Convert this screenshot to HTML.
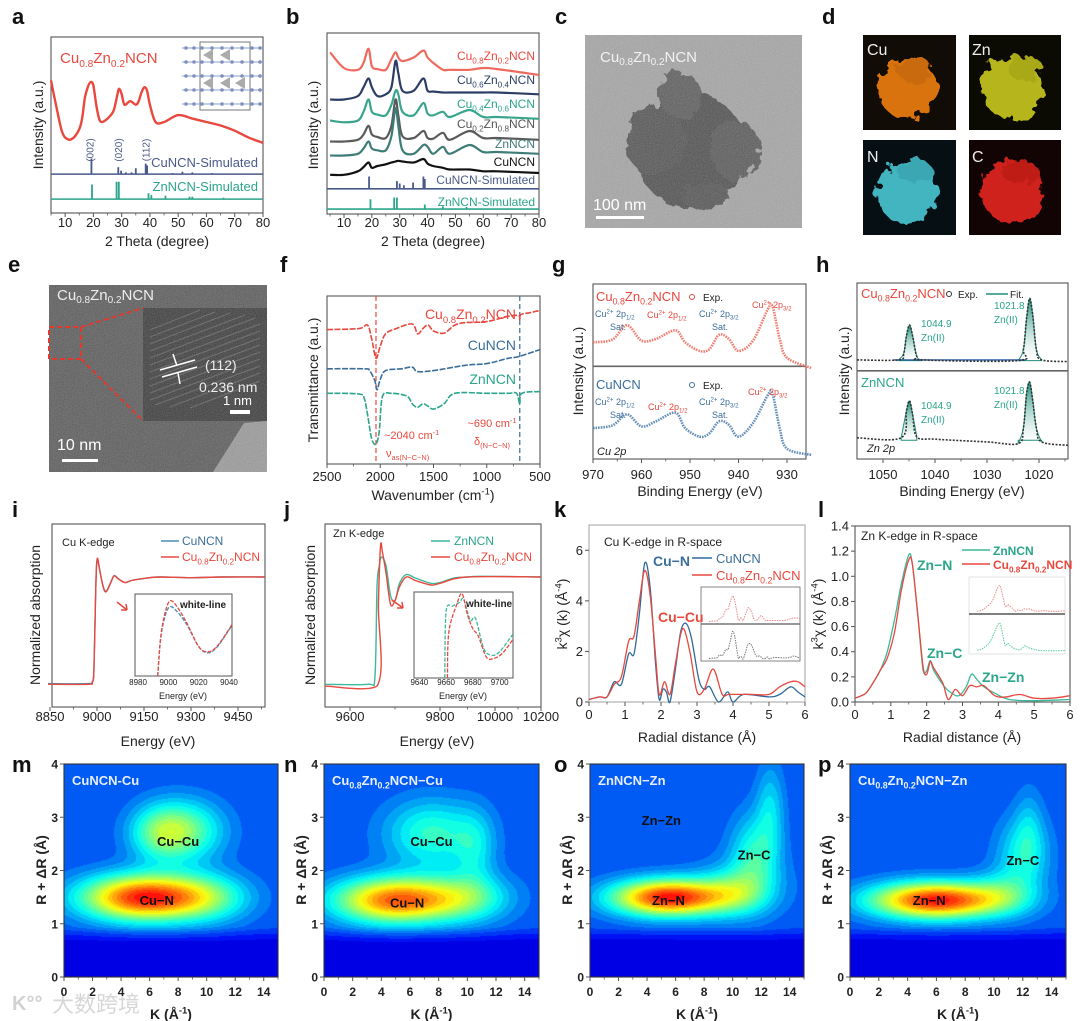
<!DOCTYPE html>
<html><head><meta charset="utf-8">
<style>
html,body{margin:0;padding:0;background:#fff}
#wrap{position:relative;width:1080px;height:1021px;overflow:hidden;background:#fff}
#wrap canvas{position:absolute;z-index:0}
#fig{position:absolute;left:0;top:0;z-index:1;font-family:"Liberation Sans","Noto Sans CJK SC",sans-serif}
</style></head>
<body>
<div id="wrap">
<canvas id="cm" style="left:64px;top:764px" width="214" height="213"></canvas>
<canvas id="cn" style="left:324px;top:764px" width="215" height="213"></canvas>
<canvas id="co" style="left:590px;top:764px" width="214" height="213"></canvas>
<canvas id="cp" style="left:850px;top:764px" width="216" height="213"></canvas>
<svg id="fig" width="1080" height="1021" viewBox="0 0 1080 1021">
<defs>
<filter id="grain" x="0" y="0" width="100%" height="100%"><feTurbulence type="fractalNoise" baseFrequency="0.9" numOctaves="2" seed="3"/><feColorMatrix type="saturate" values="0"/><feComponentTransfer><feFuncA type="linear" slope="0.35"/></feComponentTransfer></filter>
<filter id="rough"><feTurbulence type="fractalNoise" baseFrequency="0.09" numOctaves="3" seed="7" result="n"/><feDisplacementMap in="SourceGraphic" in2="n" scale="16"/></filter>
<filter id="mottle" x="0" y="0" width="100%" height="100%"><feTurbulence type="fractalNoise" baseFrequency="0.12" numOctaves="3" seed="11"/><feColorMatrix type="matrix" values="0 0 0 0 0  0 0 0 0 0  0 0 0 0 0  0 0 0 -2.2 1.4"/></filter>
<clipPath id="blobclip"><g filter="url(#rough)"><ellipse cx="690" cy="150" rx="55" ry="58"/><ellipse cx="655" cy="140" rx="30" ry="35"/><ellipse cx="735" cy="150" rx="25" ry="30"/><ellipse cx="680" cy="95" rx="22" ry="22"/><ellipse cx="705" cy="195" rx="25" ry="14"/></g></clipPath>
<linearGradient id="tealfill" x1="0" y1="0" x2="0" y2="1"><stop offset="0" stop-color="#1f8f78"/><stop offset="1" stop-color="#ffffff" stop-opacity="0.3"/></linearGradient>
</defs>

<g>
<rect x="585" y="35" width="217" height="193" fill="#a6a6a6"/>
<g filter="url(#rough)" opacity="0.9">
<ellipse cx="690" cy="150" rx="55" ry="58" fill="#4a4a4a"/>
<ellipse cx="655" cy="140" rx="30" ry="35" fill="#505050"/>
<ellipse cx="735" cy="150" rx="25" ry="30" fill="#555"/>
<ellipse cx="680" cy="95" rx="22" ry="22" fill="#585858"/>
<ellipse cx="705" cy="195" rx="25" ry="14" fill="#505050"/>
</g>
<rect x="610" y="60" width="170" height="160" filter="url(#mottle)" opacity="0.6" clip-path="url(#blobclip)"/>
<rect x="585" y="35" width="217" height="193" filter="url(#grain)"/>
<text x="600" y="62" font-size="15" fill="#f2f2f2">Cu<tspan font-size="10" dy="3">0.8</tspan><tspan dy="-3">Zn</tspan><tspan font-size="10" dy="3">0.2</tspan><tspan dy="-3">NCN</tspan></text>
<text x="593" y="210" font-size="16" fill="#fff">100 nm</text>
<rect x="596" y="216" width="48" height="3" fill="#fff"/>
</g>

<g>
<rect x="863" y="35" width="93" height="95" fill="#120c06"/>
<g filter="url(#rough)"><ellipse cx="907" cy="88" rx="30" ry="30" fill="#d8730f"/><ellipse cx="915" cy="70" rx="18" ry="12" fill="#c86a10"/></g>
<text x="867" y="55" font-size="16" fill="#eee">Cu</text>
<rect x="969" y="35" width="92" height="95" fill="#0b0b03"/>
<g filter="url(#rough)"><ellipse cx="1012" cy="88" rx="30" ry="32" fill="#b7b51a"/><ellipse cx="1025" cy="68" rx="18" ry="12" fill="#a9a818"/></g>
<text x="972" y="55" font-size="16" fill="#eee">Zn</text>
<rect x="863" y="140" width="93" height="95" fill="#061014"/>
<g filter="url(#rough)"><ellipse cx="907" cy="192" rx="30" ry="32" fill="#42b5c0"/><ellipse cx="915" cy="172" rx="18" ry="12" fill="#3aa7b3"/></g>
<text x="867" y="162" font-size="16" fill="#eee">N</text>
<rect x="969" y="140" width="92" height="95" fill="#120404"/>
<g filter="url(#rough)"><ellipse cx="1012" cy="192" rx="30" ry="32" fill="#d0201a"/><ellipse cx="1020" cy="172" rx="18" ry="12" fill="#c01c18"/></g>
<text x="972" y="162" font-size="16" fill="#eee">C</text>
</g>

<g>
<rect x="49" y="285" width="218" height="187" fill="#5d5d5d"/>
<polygon points="213,472 244,423 267,421 267,472" fill="#9b9b9b"/>
<rect x="143" y="308" width="124" height="113" fill="#3e3e3e"/>
<g stroke="#6a6a6a" stroke-width="1.2" opacity="0.8">
<line x1="150" y1="330" x2="200" y2="310"/><line x1="150" y1="337" x2="215" y2="312"/><line x1="150" y1="344" x2="230" y2="313"/><line x1="150" y1="351" x2="245" y2="315"/><line x1="150" y1="358" x2="255" y2="318"/><line x1="150" y1="365" x2="260" y2="324"/><line x1="150" y1="372" x2="260" y2="331"/><line x1="150" y1="379" x2="260" y2="338"/><line x1="150" y1="386" x2="260" y2="345"/><line x1="150" y1="393" x2="260" y2="352"/><line x1="150" y1="400" x2="260" y2="359"/><line x1="155" y1="405" x2="260" y2="366"/><line x1="170" y1="407" x2="260" y2="373"/><line x1="190" y1="408" x2="260" y2="381"/>
</g>
<rect x="49" y="285" width="218" height="187" filter="url(#grain)"/>
<rect x="49" y="327" width="32" height="32" fill="none" stroke="#e03a30" stroke-width="2" stroke-dasharray="5 3"/>
<line x1="81" y1="327" x2="143" y2="308" stroke="#e03a30" stroke-width="2" stroke-dasharray="5 3"/>
<line x1="81" y1="359" x2="143" y2="421" stroke="#e03a30" stroke-width="2" stroke-dasharray="5 3"/>
<text x="57" y="300" font-size="15" fill="#eee">Cu<tspan font-size="10" dy="3">0.8</tspan><tspan dy="-3">Zn</tspan><tspan font-size="10" dy="3">0.2</tspan><tspan dy="-3">NCN</tspan></text>
<text x="205" y="370" font-size="14" fill="#eee">(112)</text>
<text x="199" y="392" font-size="14" fill="#eee">0.236 nm</text>
<g stroke="#fff" stroke-width="1.5"><line x1="160" y1="370" x2="195" y2="360"/><line x1="162" y1="377" x2="197" y2="367"/><line x1="173" y1="354" x2="177" y2="366"/><line x1="180" y1="384" x2="178" y2="373"/></g>
<text x="223" y="405" font-size="13" fill="#fff">1 nm</text>
<rect x="230" y="410" width="20" height="4" fill="#fff"/>
<text x="57" y="450" font-size="16" fill="#fff">10 nm</text>
<rect x="62" y="459" width="36" height="3" fill="#fff"/>
</g>

<g opacity="0.85">
<text x="12" y="1010" font-size="20" fill="#c9c9c9" font-weight="bold">K°°</text>
<text x="52" y="1012" font-size="22" fill="#d0d0d0">大数跨境</text>
</g>
</svg>
</div>
<script>
// ================= DATA =================
const aX=[5,7,9,11,13,15,16,17,18,19,20,21,22,23,25,27,28,29,30,31,33,35,36,37,38,39,40,42,45,50,55,60,65,70,75,80];
const aRed=[230,310,380,400,395,370,340,280,250,235,245,300,340,350,340,320,290,255,270,300,290,300,290,265,250,260,300,350,350,330,340,350,360,375,395,410];
const aCuSimPos=[19.3,28.8,29.8,31.5,33.5,35,38.5,39,48,51.5,55,62];
const aCuSimH=[455,480,490,495,495,483,470,475,497,493,495,497];
const aZnSimPos=[19.5,28.2,29,39.5,40.5,45.5,54,55,66];
const aZnSimH=[530,522,522,555,560,562,565,565,568];
const bX=[5,10,15,17,18.8,20,22,25,27,28.5,29.5,31,35,38.5,40,42,45.5,48,55,60,65,80];
const bCu08=[150,195,200,180,140,190,198,200,170,150,165,175,165,145,165,180,200,200,200,195,198,215];
const bCu06=[285,285,275,250,225,250,275,270,250,175,210,260,260,225,260,262,265,265,265,265,265,270];
const bCu04=[345,350,345,320,285,320,328,330,300,260,270,320,330,295,325,330,320,335,315,335,335,340];
const bCu02=[405,405,400,385,360,385,392,395,360,285,330,390,395,375,395,397,380,400,375,395,395,400];
const bZn=[445,445,440,425,405,425,430,430,390,310,360,430,440,415,420,440,420,440,415,435,435,440];
const bCu=[500,500,490,478,465,480,475,470,465,462,460,462,465,455,468,475,480,485,485,490,490,495];
const bCuSimPos=[19,29,30,31.5,34.8,38.5,39];
const bCuSimH=[505,518,525,530,522,505,512];
const bZnSimPos=[19.5,28,29,39,45.5,54];
const bZnSimH=[570,565,565,585,590,592];
const fRedX=[2500,2200,2120,2080,2040,2000,1950,1850,1700,1650,1600,1550,1500,1400,1300,1200,1000,800,700,690,680,600,500];
const fRed=[228,225,215,255,310,275,240,225,212,240,225,215,232,238,215,208,205,190,188,200,185,180,173];
const fBlueX=[2500,2150,2100,2050,2030,2000,1950,1800,1700,1650,1500,1200,1000,800,700,500];
const fBlue=[340,340,345,375,400,370,345,340,335,348,345,330,325,310,305,285];
const fTealX=[2500,2200,2150,2120,2080,2040,2010,1980,1900,1750,1700,1650,1600,1550,1500,1400,1300,1000,800,720,690,670,500];
const fTeal=[410,412,425,470,540,555,520,420,410,418,440,450,440,447,455,440,410,410,410,410,440,410,405];
const gX=[970,966,963,960,957,953,951,948,946,944,942,940,937,934,933,931.5,930,925];
const gRed=[270,262,220,265,260,235,270,295,290,248,260,295,265,175,165,260,315,345];
const gBlue=[520,512,480,515,500,475,520,545,535,500,510,545,505,425,420,520,580,598];
const hTopX=[1055,1047,1046,1045.5,1044.9,1044.3,1043.5,1042.5,1024,1023,1022.4,1021.8,1021.2,1020.5,1019.5,1014.4];
const hTop=[320,320,300,250,218,250,310,320,322,290,200,140,190,290,320,325];
const hBotX=[1055,1046.5,1045.5,1044.9,1044.3,1043.5,1040,1030,1024,1023,1022.4,1021.8,1021.2,1020.5,1019.5,1014.4];
const hBot=[548,548,470,440,480,545,552,560,565,520,420,385,440,520,560,570];
const iX=[8844,8970,8985,8990,8995,8998,9002,9008,9020,9030,9045,9055,9070,9090,9110,9150,9200,9300,9400,9536];
const iCu=[528,528,522,490,300,200,174,200,250,262,235,218,228,238,232,226,222,224,222,222];
const iCuZn=[530,530,524,492,298,196,168,198,252,264,236,219,229,238,232,226,222,224,222,222];
const iInsX=[8993,8995,8998,9001,9005,9012,9020,9026,9032,9040,9042];
const iInsRed=[505,390,320,288,300,350,420,435,420,370,355];
const iInsBlue=[505,395,330,305,315,355,420,438,422,372,357];
const jTealX=[9540,9640,9655,9660,9665,9670,9680,9690,9700,9710,9725,9745,9780,9800,9850,9900,9950,10200];
const jTeal=[530,530,515,250,190,165,190,275,290,240,215,225,240,238,225,222,220,222];
const jRedX=[9540,9660,9663,9668,9672,9680,9690,9700,9710,9725,9745,9780,9800,9900,10200];
const jRed=[535,535,300,130,150,210,300,290,250,222,232,245,240,222,222];
const jInsTealX=[9659,9660,9665,9670,9673,9678,9682,9688,9694,9700,9710];
const jInsTeal=[510,320,305,295,285,345,340,425,445,435,385];
const jInsRedX=[9661,9662,9668,9672,9676,9680,9684,9690,9695,9702,9710];
const jInsRed=[510,380,300,270,330,370,390,450,455,440,400];
const kBlueX=[0,0.3,0.5,0.7,0.9,1.1,1.25,1.4,1.55,1.7,1.85,1.95,2.05,2.15,2.25,2.4,2.55,2.7,2.85,3.05,3.2,3.35,3.6,3.85,4.0,4.3,5.0,5.3,5.6,5.8,6.0];
const kBlue=[0.1,0.2,0.2,0.8,0.7,1.9,1.9,3.5,5.5,4.5,1.5,0.1,0.5,0.4,0.0,1.3,2.8,3.1,2.5,0.9,0.5,0.6,0.0,0.4,0.0,0.3,0.2,0.3,0.6,0.4,0.2];
const kRedX=[0,0.3,0.5,0.7,0.9,1.1,1.25,1.4,1.55,1.7,1.85,1.95,2.1,2.25,2.4,2.6,2.8,3.0,3.2,3.45,3.7,3.9,4.5,5.0,5.3,5.6,5.8,6.0];
const kRed=[0.1,0.2,0.2,0.7,1.0,2.4,2.6,4.0,5.2,4.2,1.8,0.3,0.8,0.3,1.5,2.9,2.0,0.4,0.5,1.3,0.3,0.3,0.3,0.3,0.6,0.8,0.8,0.6];
const lTealX=[0,0.3,0.5,0.7,0.9,1.1,1.3,1.5,1.6,1.75,1.9,2.0,2.1,2.2,2.5,2.7,2.9,3.1,3.25,3.4,3.6,3.9,4.3,5,6];
const lTeal=[0.03,0.07,0.15,0.25,0.4,0.65,0.95,1.17,1.1,0.7,0.25,0.25,0.33,0.25,0.12,0.07,0.05,0.12,0.22,0.18,0.12,0.07,0.02,0.01,0.02];
const lRedX=[0,0.3,0.5,0.7,0.9,1.1,1.3,1.5,1.6,1.75,1.9,2.0,2.1,2.2,2.45,2.6,2.8,3.0,3.2,3.4,3.6,3.9,4.2,4.6,5,5.5,6];
const lRed=[0.03,0.07,0.15,0.25,0.35,0.55,0.9,1.13,1.1,0.7,0.28,0.22,0.32,0.27,0.15,0.02,0.1,0.05,0.13,0.12,0.13,0.05,0.04,0.06,0.03,0.03,0.05];
const mK=[5.5,10,8.2,6.5], mR=[1.5,1.5,2.75,2.7], mAmp=[0.64,0.2,0.3,0.14], mSK=[3.0,2.2,2.0,1.4], mSR=[0.3,0.32,0.4,0.35];
const nK=[5,10,7.5,10.5], nR=[1.45,1.5,2.7,2.4], nAmp=[0.58,0.2,0.22,0.12], nSK=[3.0,2.2,2.3,1.0], nSR=[0.3,0.32,0.45,0.5];
const oK=[5.5,10,11.5,12.6,10.5], oR=[1.5,1.6,2.3,3.2,1.7], oAmp=[0.66,0.14,0.2,0.13,0.08], oSK=[2.8,1.5,1.2,0.7,2.5], oSR=[0.24,0.3,0.55,0.6,0.4];
const pK=[6,10.5,12,12.4], pR=[1.45,1.6,2.3,2.9], pAmp=[0.66,0.12,0.18,0.08], pSK=[3.2,1.5,1.3,0.7], pSR=[0.24,0.3,0.5,0.5];
const kTicks=[0,2,4,6,8,10,12,14], rTicks=[0,1,2,3,4];

// ================= HELPERS =================
const svg=document.getElementById('fig');
const NS='http://www.w3.org/2000/svg';
const RED='#e8483e', BLUE='#3b6e9b', TEAL='#2ba58b', NAVY='#2c3e66', SLATE='#4a5a8a';
function mk(tag,attrs,parent){const e=document.createElementNS(NS,tag);for(const k in attrs)e.setAttribute(k,attrs[k]);(parent||svg).appendChild(e);return e;}
function lin(d0,d1,r0,r1){return v=>r0+(v-d0)*(r1-r0)/(d1-d0);}
function pw(ds,rs){return v=>{let i=0;while(i<ds.length-2&&v>ds[i+1])i++;return rs[i]+(v-ds[i])*(rs[i+1]-rs[i])/(ds[i+1]-ds[i]);};}
function rich(el,str,fs){
  const re=/(_|\^)\{([^}]*)\}/g;let last=0,m,cur=0;
  const add=(s,off,small)=>{const t=mk('tspan',{},el);t.setAttribute('dy',off-cur);cur=off;if(small)t.setAttribute('font-size',fs*0.68);t.textContent=s;};
  while((m=re.exec(str))){if(m.index>last)add(str.slice(last,m.index),0,false);add(m[2],m[1]==='_'?fs*0.28:-fs*0.38,true);last=re.lastIndex;}
  if(last<str.length)add(str.slice(last),0,false);
}
function tx(parent,x,y,str,o){
  o=o||{};const fs=o.fs||12;
  const e=mk('text',{x:x,y:y,'font-size':fs,fill:o.fill||'#222','text-anchor':o.anchor||'start','font-weight':o.bold?'bold':'normal','font-style':o.italic?'italic':'normal'},parent);
  if(o.rot)e.setAttribute('transform','rotate('+o.rot+' '+x+' '+y+')');
  
  
  rich(e,str,fs);return e;
}
function smooth(pts){
  let d='M'+pts[0][0].toFixed(1)+','+pts[0][1].toFixed(1);
  for(let i=0;i<pts.length-1;i++){
    const p0=pts[i-1]||pts[i],p1=pts[i],p2=pts[i+1],p3=pts[i+2]||p2;
    let c1y=p1[1]+(p2[1]-p0[1])/6,c2y=p2[1]-(p3[1]-p1[1])/6;
    const lo=Math.min(p1[1],p2[1]),hi=Math.max(p1[1],p2[1]);
    c1y=Math.max(lo-6,Math.min(hi+6,c1y));c2y=Math.max(lo-6,Math.min(hi+6,c2y));
    d+=' C'+(p1[0]+(p2[0]-p0[0])/6).toFixed(1)+','+c1y.toFixed(1)+' '+(p2[0]-(p3[0]-p1[0])/6).toFixed(1)+','+c2y.toFixed(1)+' '+p2[0].toFixed(1)+','+p2[1].toFixed(1);
  }
  return d;
}
function series(g,xs,ys,sx,sy,style,name){
  const pts=xs.map((x,i)=>[sx(x),sy(ys[i])]).sort((a,b)=>a[0]-b[0]);
  const p=mk('path',Object.assign({d:smooth(pts),fill:'none','stroke-linejoin':'round'},style),g);
  
  
  return p;
}
function sticks(g,pos,h,base,sx,sy,color,name){
  pos.forEach((x,i)=>{
    const l=mk('line',{x1:sx(x),x2:sx(x),y1:sy(base),y2:sy(h[i]),stroke:color,'stroke-width':1.8},g);
    
    
  });
}
function panelGroup(name){const g=mk('g',{});return g;}
function frame(g,b,color){
  const r=mk('rect',{x:b.x,y:b.y,width:b.w,height:b.h,fill:'none',stroke:color||'#555','stroke-width':1.1},g);
  
  
}
function xAxis(g,b,sx,ticks,labels,ly,opts){
  opts=opts||{};
  ticks.forEach((t,i)=>{
    const x=sx(t);
    const tk=mk('line',{x1:x,x2:x,y1:b.y+b.h,y2:b.y+b.h+4,stroke:'#555','stroke-width':1},g);
    
    
    if(labels[i]!==''&&labels[i]!=null)tx(g,x,ly,String(labels[i]),{fs:opts.fs||13,anchor:'middle',fill:'#222',bold:opts.bold,name:'x-tick-label'});
  });
  (opts.minor||[]).forEach(t=>{const x=sx(t);const mt=mk('line',{x1:x,x2:x,y1:b.y+b.h,y2:b.y+b.h+2.5,stroke:'#555','stroke-width':0.8},g);});
}
function yAxis(g,b,sy,ticks,labels,opts){
  opts=opts||{};
  ticks.forEach((t,i)=>{
    const y=sy(t);
    const tk=mk('line',{x1:b.x-4,x2:b.x,y1:y,y2:y,stroke:'#555','stroke-width':1},g);
    
    
    tx(g,b.x-6,y+4.5,String(labels[i]),{fs:opts.fs||13,anchor:'end',bold:opts.bold,name:'y-tick-label'});
  });
}
function range(a,b,s){const r=[];for(let v=a;v<=b+1e-9;v+=s)r.push(+v.toFixed(4));return r;}
function letter(x,y,ch){tx(svg,x,y,ch,{fs:22,bold:true,fill:'#111',name:'panel-letter-'+ch});}
function legLine(g,x1,x2,y,color,name){const l=mk('line',{x1:x1,x2:x2,y1:y,y2:y,stroke:color,'stroke-width':1.6},g);}

// ================= PANEL a =================
(function(){
  const g=panelGroup('panel-a-xrd');
  const b={x:51,y:37,w:212,h:176};
  const sx=lin(5,80,51,263), sy=lin(612,105,213,37);
  frame(g,b);
  sticks(g,aCuSimPos,aCuSimH,500,sx,sy,SLATE,'cuncn-sim-stick');
  legLine(g,b.x,b.x+b.w,sy(500),SLATE,'cuncn-sim-baseline');
  sticks(g,aZnSimPos,aZnSimH,572,sx,sy,TEAL,'znncn-sim-stick');
  legLine(g,b.x,b.x+b.w,sy(572),TEAL,'znncn-sim-baseline');
  series(g,aX,aRed,sx,sy,{stroke:RED,'stroke-width':2.4},'cu08zn02ncn-xrd-curve');
  const ins=mk('g',{},g);
  mk('rect',{x:200,y:42,width:50,height:68,fill:'none',stroke:'#777','stroke-width':1},ins);
  [48,62,76,90,104].forEach(y=>{mk('line',{x1:182,x2:264,y1:y,y2:y,stroke:'#8aa0c8','stroke-width':1},ins);
    [186,194,202,212,222,232,242,252,260].forEach(x=>mk('circle',{cx:x,cy:y,r:1.8,fill:'#7f8fc0'},ins));});
  [[203,55],[220,55],[235,83],[203,83],[220,83]].forEach(p=>mk('polygon',{points:(p[0])+','+(p[1])+' '+(p[0]+10)+','+(p[1]-6)+' '+(p[0]+10)+','+(p[1]+6),fill:'#888',opacity:0.7},ins));
  tx(g,60,63,'Cu_{0.8}Zn_{0.2}NCN',{fs:15,fill:RED,name:'sample-label'});
  tx(g,258,167,'CuNCN-Simulated',{fs:13,fill:SLATE,anchor:'end',name:'cuncn-sim-label'});
  tx(g,258,191,'ZnNCN-Simulated',{fs:13,fill:TEAL,anchor:'end',name:'znncn-sim-label'});
  [[19,'(002)'],[29,'(020)'],[38.8,'(112)']].forEach(p=>tx(g,sx(p[0])+3,150,p[1],{fs:10,fill:SLATE,anchor:'middle',rot:-90,name:'miller-index-label'}));
  xAxis(g,b,sx,range(10,80,10),range(10,80,10),227,{minor:range(5,75,10)});
  tx(g,157,246,'2 Theta (degree)',{fs:14,anchor:'middle',name:'x-axis-title'});
  tx(g,43,125,'Intensity (a.u.)',{fs:14,anchor:'middle',rot:-90,name:'y-axis-title'});
})();
letter(12,24,'a');

// ================= PANEL b =================
(function(){
  const g=panelGroup('panel-b-xrd-series');
  const b={x:327,y:33,w:212,h:181};
  const sx=lin(10,80,344,539), sy=lin(612,95,214,33);
  frame(g,b);
  sticks(g,bCuSimPos,bCuSimH,540,sx,sy,SLATE,'cuncn-sim-stick');
  legLine(g,b.x,b.x+b.w,sy(540),SLATE,'cuncn-sim-baseline');
  sticks(g,bZnSimPos,bZnSimH,598,sx,sy,TEAL,'znncn-sim-stick');
  legLine(g,b.x,b.x+b.w,sy(598),TEAL,'znncn-sim-baseline');
  series(g,bX,bCu08,sx,sy,{stroke:'#ef6a5e','stroke-width':2.2},'cu08zn02ncn-curve');
  series(g,bX,bCu06,sx,sy,{stroke:NAVY,'stroke-width':2.2},'cu06zn04ncn-curve');
  series(g,bX,bCu04,sx,sy,{stroke:'#3aa58d','stroke-width':2.2},'cu04zn06ncn-curve');
  series(g,bX,bCu02,sx,sy,{stroke:'#5a5a5a','stroke-width':2.2},'cu02zn08ncn-curve');
  series(g,bX,bZn,sx,sy,{stroke:'#3e7c78','stroke-width':2.2},'znncn-curve');
  series(g,bX,bCu,sx,sy,{stroke:'#111','stroke-width':2.2},'cuncn-curve');
  tx(g,535,60,'Cu_{0.8}Zn_{0.2}NCN',{fs:12,fill:RED,anchor:'end',name:'legend-cu08'});
  tx(g,535,84,'Cu_{0.6}Zn_{0.4}NCN',{fs:12,fill:NAVY,anchor:'end',name:'legend-cu06'});
  tx(g,535,108,'Cu_{0.4}Zn_{0.6}NCN',{fs:12,fill:TEAL,anchor:'end',name:'legend-cu04'});
  tx(g,535,128,'Cu_{0.2}Zn_{0.8}NCN',{fs:12,fill:'#555',anchor:'end',name:'legend-cu02'});
  tx(g,535,148,'ZnNCN',{fs:12,fill:'#3e7c78',anchor:'end',name:'legend-znncn'});
  tx(g,535,166,'CuNCN',{fs:12,fill:'#111',anchor:'end',name:'legend-cuncn'});
  tx(g,535,184,'CuNCN-Simulated',{fs:12,fill:SLATE,anchor:'end',name:'legend-cuncn-sim'});
  tx(g,535,206,'ZnNCN-Simulated',{fs:12,fill:TEAL,anchor:'end',name:'legend-znncn-sim'});
  xAxis(g,b,sx,range(10,80,10),range(10,80,10),227,{minor:range(5,75,10)});
  tx(g,433,246,'2 Theta (degree)',{fs:14,anchor:'middle',name:'x-axis-title'});
  tx(g,318,125,'Intensity (a.u.)',{fs:14,anchor:'middle',rot:-90,name:'y-axis-title'});
})();
letter(286,24,'b');
letter(555,24,'c');
letter(822,24,'d');
letter(8,272,'e');

// ================= PANEL f =================
(function(){
  const g=panelGroup('panel-f-ftir');
  const b={x:327,y:296,w:213,h:168};
  const sx=lin(2500,500,327,540), sy=lin(612,132,464,296);
  frame(g,b);
  const v1=mk('line',{x1:sx(2040),x2:sx(2040),y1:b.y,y2:b.y+b.h,stroke:RED,'stroke-width':1.2,'stroke-dasharray':'5 3'},g);
  
  
  const v2=mk('line',{x1:sx(690),x2:sx(690),y1:b.y,y2:b.y+b.h,stroke:BLUE,'stroke-width':1.2,'stroke-dasharray':'5 3'},g);
  
  
  series(g,fRedX,fRed,sx,sy,{stroke:RED,'stroke-width':1.6,'stroke-dasharray':'6 1.5'},'cu08zn02ncn-ftir');
  series(g,fBlueX,fBlue,sx,sy,{stroke:BLUE,'stroke-width':1.6,'stroke-dasharray':'6 1.5'},'cuncn-ftir');
  series(g,fTealX,fTeal,sx,sy,{stroke:TEAL,'stroke-width':1.6,'stroke-dasharray':'6 1.5'},'znncn-ftir');
  tx(g,516,319,'Cu_{0.8}Zn_{0.2}NCN',{fs:14,fill:RED,anchor:'end',name:'legend-cu08'});
  tx(g,516,350,'CuNCN',{fs:14,fill:BLUE,anchor:'end',name:'legend-cuncn'});
  tx(g,516,384,'ZnNCN',{fs:14,fill:TEAL,anchor:'end',name:'legend-znncn'});
  tx(g,384,439,'~2040 cm^{-1}',{fs:11,fill:RED,name:'annot-2040'});
  tx(g,386,457,'ν_{as(N−C−N)}',{fs:11,fill:RED,name:'annot-nu'});
  tx(g,492,427,'~690 cm^{-1}',{fs:11,fill:RED,anchor:'middle',name:'annot-690'});
  tx(g,492,445,'δ_{(N−C−N)}',{fs:11,fill:RED,anchor:'middle',name:'annot-delta'});
  xAxis(g,b,sx,[2500,2000,1500,1000,500],[2500,2000,1500,1000,500],481,{minor:[2250,1750,1250,750]});
  tx(g,433,500,'Wavenumber (cm^{-1})',{fs:14,anchor:'middle',name:'x-axis-title'});
  tx(g,318,380,'Transmittance (a.u.)',{fs:14,anchor:'middle',rot:-90,name:'y-axis-title'});
})();
letter(280,272,'f');

// ================= PANEL g =================
(function(){
  const g=panelGroup('panel-g-cu2p');
  const b={x:593,y:284,w:213,h:175};
  const sx=lin(970,930,593,787), sy=lin(610,100,459,284);
  frame(g,b);
  legLine(g,b.x,b.x+b.w,sy(340),'#666','divider-line');
  series(g,gX,gRed,sx,sy,{stroke:'#ee6a5a','stroke-width':2.6,'stroke-dasharray':'1.6 1','opacity':0.85},'cu08zn02ncn-exp');
  series(g,gX,gBlue,sx,sy,{stroke:'#4a7cab','stroke-width':2.6,'stroke-dasharray':'1.6 1','opacity':0.85},'cuncn-exp');
  tx(g,596,301,'Cu_{0.8}Zn_{0.2}NCN',{fs:13,fill:RED,name:'legend-cu08'});
  mk('circle',{cx:692,cy:297,r:2.5,fill:'none',stroke:RED},g);
  tx(g,703,301,'Exp.',{fs:10,name:'legend-exp'});
  tx(g,595,317,'Cu^{2+} 2p_{1/2}',{fs:9,fill:BLUE,name:'annot-sat1'});
  tx(g,610,330,'Sat.',{fs:9,fill:BLUE,name:'annot-sat1b'});
  tx(g,647,318,'Cu^{2+} 2p_{1/2}',{fs:9,fill:RED,name:'annot-2p12'});
  tx(g,699,317,'Cu^{2+} 2p_{3/2}',{fs:9,fill:BLUE,name:'annot-sat2'});
  tx(g,712,330,'Sat.',{fs:9,fill:BLUE,name:'annot-sat2b'});
  tx(g,752,308,'Cu^{2+} 2p_{3/2}',{fs:9,fill:RED,name:'annot-2p32'});
  tx(g,596,389,'CuNCN',{fs:13,fill:BLUE,name:'legend-cuncn'});
  mk('circle',{cx:692,cy:385,r:2.5,fill:'none',stroke:BLUE},g);
  tx(g,703,389,'Exp.',{fs:10,name:'legend-exp'});
  tx(g,595,405,'Cu^{2+} 2p_{1/2}',{fs:9,fill:BLUE,name:'annot-sat1'});
  tx(g,610,418,'Sat.',{fs:9,fill:BLUE,name:'annot-sat1b'});
  tx(g,648,410,'Cu^{2+} 2p_{1/2}',{fs:9,fill:RED,name:'annot-2p12'});
  tx(g,699,405,'Cu^{2+} 2p_{3/2}',{fs:9,fill:BLUE,name:'annot-sat2'});
  tx(g,712,418,'Sat.',{fs:9,fill:BLUE,name:'annot-sat2b'});
  tx(g,748,395,'Cu^{2+} 2p_{3/2}',{fs:9,fill:RED,name:'annot-2p32'});
  tx(g,597,455,'Cu 2p',{fs:11,italic:true,name:'core-level-label'});
  xAxis(g,b,sx,[970,960,950,940,930],[970,960,950,940,930],479,{minor:[965,955,945,935]});
  tx(g,700,496,'Binding Energy (eV)',{fs:14,anchor:'middle',name:'x-axis-title'});
  tx(g,583,371,'Intensity (a.u.)',{fs:14,anchor:'middle',rot:-90,name:'y-axis-title'});
})();
letter(552,272,'g');

// ================= PANEL h =================
(function(){
  const g=panelGroup('panel-h-zn2p');
  const b={x:857,y:283,w:211,h:176};
  const sx=lin(1050,1020,883,1039), sy=lin(610,95,459,283);
  frame(g,b);
  legLine(g,b.x,b.x+b.w,sy(352),'#666','divider-line');
  function fillPeaks(xs,ys,base,name){
    [[1047,1042.5],[1024.2,1019.4]].forEach(w=>{
      const pts=[];xs.forEach((x,i)=>{if(x<=w[0]&&x>=w[1])pts.push([sx(x),sy(ys[i])]);});
      pts.sort((a,b)=>a[0]-b[0]);
      const d=smooth(pts)+' L'+pts[pts.length-1][0]+','+sy(base)+' L'+pts[0][0]+','+sy(base)+'Z';
      const p=mk('path',{d:d,fill:'url(#tealfill)',stroke:'#1f8f78','stroke-width':1},g);
      
      
    });
  }
  fillPeaks(hTopX,hTop,322,'cu08-fit-peak');
  fillPeaks(hBotX,hBot,555,'znncn-fit-peak');
  const fit=mk('line',{x1:sx(1048),x2:sx(1022.5),y1:sy(320),y2:sy(320),stroke:'#2a5fa0','stroke-width':1.4},g);
  
  
  series(g,hTopX,hTop,sx,sy,{stroke:'#333','stroke-width':1.6,'stroke-dasharray':'2 1.5'},'cu08zn02ncn-exp');
  series(g,hBotX,hBot,sx,sy,{stroke:'#333','stroke-width':1.6,'stroke-dasharray':'2 1.5'},'znncn-exp');
  tx(g,861,298,'Cu_{0.8}Zn_{0.2}NCN',{fs:13,fill:RED,name:'legend-cu08'});
  mk('circle',{cx:949,cy:294,r:2.5,fill:'none',stroke:'#333'},g);
  tx(g,958,298,'Exp.',{fs:10,name:'legend-exp'});
  legLine(g,986,1008,294,'#1f8f78','legend-fit-line');
  tx(g,1010,298,'Fit.',{fs:10,name:'legend-fit'});
  tx(g,921,327,'1044.9',{fs:10,fill:TEAL,name:'peak-1044'});
  tx(g,921,341,'Zn(II)',{fs:10,fill:TEAL,name:'peak-1044-state'});
  tx(g,994,309,'1021.8',{fs:10,fill:TEAL,name:'peak-1021'});
  tx(g,994,323,'Zn(II)',{fs:10,fill:TEAL,name:'peak-1021-state'});
  tx(g,861,387,'ZnNCN',{fs:13,fill:TEAL,name:'legend-znncn'});
  tx(g,921,409,'1044.9',{fs:10,fill:TEAL,name:'peak-1044'});
  tx(g,921,423,'Zn(II)',{fs:10,fill:TEAL,name:'peak-1044-state'});
  tx(g,994,394,'1021.8',{fs:10,fill:TEAL,name:'peak-1021'});
  tx(g,994,408,'Zn(II)',{fs:10,fill:TEAL,name:'peak-1021-state'});
  tx(g,867,452,'Zn 2p',{fs:11,italic:true,name:'core-level-label'});
  xAxis(g,b,sx,[1050,1040,1030,1020],[1050,1040,1030,1020],479,{minor:[1045,1035,1025,1015]});
  tx(g,962,496,'Binding Energy (eV)',{fs:14,anchor:'middle',name:'x-axis-title'});
  tx(g,849,371,'Intensity (a.u.)',{fs:14,anchor:'middle',rot:-90,name:'y-axis-title'});
})();
letter(816,272,'h');

// ================= PANEL i =================
(function(){
  const g=panelGroup('panel-i-cu-xanes');
  const b={x:52,y:524,w:213,h:183};
  const sx=lin(8850,9450,50,238), sy=lin(595,70,707,524);
  frame(g,b);
  series(g,iX,iCu,sx,sy,{stroke:'#4a8fb0','stroke-width':1.4},'cuncn-xanes');
  series(g,iX,iCuZn,sx,sy,{stroke:RED,'stroke-width':1.4},'cu08zn02ncn-xanes');
  const box=mk('rect',{x:sx(8970),y:sy(282),width:sx(9045)-sx(8970),height:sy(158)-sy(282),fill:'none',stroke:'#f07a6a','stroke-width':1.2,'stroke-dasharray':'5 3'},g);
  
  
  const ar=mk('path',{d:'M117,602 L127,610 M127,610 L121,610 M127,610 L126,604',stroke:RED,'stroke-width':1.5,fill:'none'},g);
  
  
  const ib={x:135,y:594,w:97,h:82};
  const isx=lin(8978,9042,135,232), isy=lin(505,268,676,594);
  mk('rect',{x:ib.x,y:ib.y,width:ib.w,height:ib.h,fill:'#fff',stroke:'#555','stroke-width':1},g);
  series(g,iInsX,iInsBlue,isx,isy,{stroke:'#4a8fb0','stroke-width':1.3,'stroke-dasharray':'4 1.5'},'inset-cuncn');
  series(g,iInsX,iInsRed,isx,isy,{stroke:RED,'stroke-width':1.3,'stroke-dasharray':'4 1.5'},'inset-cu08');
  tx(g,180,608,'white-line',{fs:10,bold:true,name:'inset-white-line-label'});
  [8980,9000,9020,9040].forEach(v=>tx(g,isx(v),685,String(v),{fs:8,anchor:'middle',name:'inset-tick-label'}));
  tx(g,183,699,'Energy (eV)',{fs:9,anchor:'middle',name:'inset-x-title'});
  tx(g,62,546,'Cu K-edge',{fs:11,name:'edge-label'});
  legLine(g,161,179,541,'#4a8fb0','legend-line-cuncn');
  tx(g,182,545,'CuNCN',{fs:12,fill:BLUE,name:'legend-cuncn'});
  legLine(g,161,179,557,RED,'legend-line-cu08');
  tx(g,182,561,'Cu_{0.8}Zn_{0.2}NCN',{fs:12,fill:RED,name:'legend-cu08'});
  xAxis(g,b,sx,[8850,9000,9150,9300,9450],[8850,9000,9150,9300,9450],721,{minor:[8925,9075,9225,9375,9525]});
  tx(g,158,746,'Energy (eV)',{fs:14,anchor:'middle',name:'x-axis-title'});
  tx(g,40,615,'Normalized absorption',{fs:14,anchor:'middle',rot:-90,name:'y-axis-title'});
})();
letter(12,517,'i');

// ================= PANEL j =================
(function(){
  const g=panelGroup('panel-j-zn-xanes');
  const b={x:325,y:524,w:216,h:183};
  const sx=pw([9540,9600,9800,10000,10200],[325,350,440,495,541]), sy=lin(595,70,707,524);
  frame(g,b);
  series(g,jTealX,jTeal,sx,sy,{stroke:'#3cb89b','stroke-width':1.4},'znncn-xanes');
  series(g,jRedX,jRed,sx,sy,{stroke:RED,'stroke-width':1.4},'cu08zn02ncn-xanes');
  const box=mk('rect',{x:sx(9625),y:sy(318),width:sx(9700)-sx(9625),height:sy(118)-sy(318),fill:'none',stroke:'#f07a6a','stroke-width':1.2,'stroke-dasharray':'5 3'},g);
  
  
  const ar=mk('path',{d:'M392,600 L403,608 M403,608 L397,608 M403,608 L402,602',stroke:RED,'stroke-width':1.5,fill:'none'},g);
  
  
  const isx=lin(9636,9710,414,513), isy=lin(510,265,678,592);
  mk('rect',{x:414,y:592,width:99,height:86,fill:'#fff',stroke:'#555','stroke-width':1},g);
  series(g,jInsTealX,jInsTeal,isx,isy,{stroke:'#3cb89b','stroke-width':1.3,'stroke-dasharray':'4 1.5'},'inset-znncn');
  series(g,jInsRedX,jInsRed,isx,isy,{stroke:RED,'stroke-width':1.3,'stroke-dasharray':'4 1.5'},'inset-cu08');
  tx(g,466,607,'white-line',{fs:10,bold:true,name:'inset-white-line-label'});
  [9640,9660,9680,9700].forEach(v=>tx(g,isx(v),685,String(v),{fs:8,anchor:'middle',name:'inset-tick-label'}));
  tx(g,463,699,'Energy (eV)',{fs:9,anchor:'middle',name:'inset-x-title'});
  tx(g,333,537,'Zn K-edge',{fs:11,name:'edge-label'});
  legLine(g,431,450,541,'#3cb89b','legend-line-znncn');
  tx(g,454,545,'ZnNCN',{fs:12,fill:TEAL,name:'legend-znncn'});
  legLine(g,431,450,557,RED,'legend-line-cu08');
  tx(g,454,561,'Cu_{0.8}Zn_{0.2}NCN',{fs:12,fill:RED,name:'legend-cu08'});
  xAxis(g,b,sx,[9600,9800,10000,10200],[9600,9800,10000,10200],721,{minor:[9700,9900,10100]});
  tx(g,437,746,'Energy (eV)',{fs:14,anchor:'middle',name:'x-axis-title'});
  tx(g,315,615,'Normalized absorption',{fs:14,anchor:'middle',rot:-90,name:'y-axis-title'});
})();
letter(284,517,'j');

// ================= PANEL k =================
(function(){
  const g=panelGroup('panel-k-cu-rspace');
  const b={x:589,y:525,w:216,h:177};
  const sx=lin(0,6,589,805), sy=lin(0,7,702,525);
  frame(g,b,'#aaa');
  series(g,kBlueX,kBlue,sx,sy,{stroke:'#2f6a9a','stroke-width':1.3},'cuncn-rspace');
  series(g,kRedX,kRed,sx,sy,{stroke:RED,'stroke-width':1.3},'cu08zn02ncn-rspace');
  const ib={x:701,y:587,w:99,h:74};
  mk('rect',{x:ib.x,y:ib.y,width:ib.w,height:ib.h,fill:'#fff',stroke:'#666','stroke-width':0.8},g);
  legLine(g,ib.x,ib.x+ib.w,624,'#777','inset-divider');
  const ix=lin(0,6,ib.x+8,ib.x+ib.w), iy1=lin(0,6,622,592), iy2=lin(0,6,659,629);
  series(g,kRedX,kRed,ix,iy1,{stroke:'#e88','stroke-width':1,'stroke-dasharray':'1.5 1'},'inset-cu08');
  series(g,kBlueX,kBlue,ix,iy2,{stroke:'#777','stroke-width':1,'stroke-dasharray':'1.5 1'},'inset-cuncn');
  tx(g,604,546,'Cu K-edge  in R-space',{fs:12,name:'panel-title'});
  legLine(g,692,712,558,'#2f6a9a','legend-line-cuncn');
  tx(g,716,563,'CuNCN',{fs:13,fill:BLUE,name:'legend-cuncn'});
  legLine(g,692,712,575,RED,'legend-line-cu08');
  tx(g,716,580,'Cu_{0.8}Zn_{0.2}NCN',{fs:13,fill:RED,name:'legend-cu08'});
  tx(g,653,566,'Cu−N',{fs:14,bold:true,fill:BLUE,name:'peak-label-cu-n'});
  tx(g,658,622,'Cu−Cu',{fs:14,bold:true,fill:RED,name:'peak-label-cu-cu'});
  xAxis(g,b,sx,[0,1,2,3,4,5,6],[0,1,2,3,4,5,6],719,{minor:[0.5,1.5,2.5,3.5,4.5,5.5]});
  yAxis(g,b,sy,[0,2,4,6],[0,2,4,6]);
  tx(g,697,742,'Radial distance (Å)',{fs:14,anchor:'middle',name:'x-axis-title'});
  tx(g,567,614,'k^{3}χ (k) (Å^{-4})',{fs:14,anchor:'middle',rot:-90,name:'y-axis-title'});
})();
letter(554,517,'k');

// ================= PANEL l =================
(function(){
  const g=panelGroup('panel-l-zn-rspace');
  const b={x:855,y:526,w:215,h:176};
  const sx=lin(0,6,855,1070), sy=lin(0,1.4,702,526);
  frame(g,b);
  series(g,lTealX,lTeal,sx,sy,{stroke:'#3cb89b','stroke-width':1.3},'znncn-rspace');
  series(g,lRedX,lRed,sx,sy,{stroke:RED,'stroke-width':1.3},'cu08zn02ncn-rspace');
  const ib={x:969,y:577,w:96,h:77};
  mk('rect',{x:ib.x,y:ib.y,width:ib.w,height:ib.h,fill:'#fff',stroke:'#ddd','stroke-width':0.8},g);
  legLine(g,ib.x,ib.x+ib.w,614,'#555','inset-divider');
  const ix=lin(0,6,ib.x+8,ib.x+ib.w), iy1=lin(0,1.3,612,582), iy2=lin(0,1.3,651,620);
  series(g,lRedX,lRed,ix,iy1,{stroke:'#e88','stroke-width':1,'stroke-dasharray':'1.5 1'},'inset-cu08');
  series(g,lTealX,lTeal,ix,iy2,{stroke:'#5c9','stroke-width':1,'stroke-dasharray':'1.5 1'},'inset-znncn');
  tx(g,861,540,'Zn K-edge in R-space',{fs:12,name:'panel-title'});
  legLine(g,962,990,550,'#3cb89b','legend-line-znncn');
  tx(g,993,555,'ZnNCN',{fs:12,bold:true,fill:TEAL,name:'legend-znncn'});
  legLine(g,962,990,564,RED,'legend-line-cu08');
  tx(g,993,569,'Cu_{0.8}Zn_{0.2}NCN',{fs:12,bold:true,fill:RED,name:'legend-cu08'});
  tx(g,917,570,'Zn−N',{fs:14,bold:true,fill:TEAL,name:'peak-label-zn-n'});
  tx(g,927,658,'Zn−C',{fs:14,bold:true,fill:TEAL,name:'peak-label-zn-c'});
  tx(g,982,682,'Zn−Zn',{fs:14,bold:true,fill:TEAL,name:'peak-label-zn-zn'});
  xAxis(g,b,sx,[0,1,2,3,4,5,6],[0,1,2,3,4,5,6],719,{minor:[0.5,1.5,2.5,3.5,4.5,5.5]});
  yAxis(g,b,sy,[0,0.2,0.4,0.6,0.8,1.0,1.2,1.4],['0.0','0.2','0.4','0.6','0.8','1.0','1.2','1.4']);
  tx(g,962,742,'Radial distance (Å)',{fs:14,anchor:'middle',name:'x-axis-title'});
  tx(g,823,614,'k^{3}χ (k) (Å^{-4})',{fs:14,anchor:'middle',rot:-90,name:'y-axis-title'});
})();
letter(818,517,'l');

// ================= PANELS m-p (wavelet) =================
function jet(t){const c=v=>Math.max(0,Math.min(1,v));return [c(1.5-Math.abs(4*t-3)),c(1.5-Math.abs(4*t-2)),c(1.5-Math.abs(4*t-1))];}
function drawWT(id,K,R,A,SK,SR){
  const cv=document.getElementById(id),ctx=cv.getContext('2d');
  const w=cv.width,h=cv.height,img=ctx.createImageData(w,h);
  for(let py=0;py<h;py++){
    const r=4*(1-py/h);
    const base=r<0.65?0.1:(r<0.95?0.1+0.1*(r-0.65)/0.3:0.2);
    for(let px=0;px<w;px++){
      const k=15*px/w;let v=base;
      for(let i=0;i<K.length;i++){v+=A[i]*Math.exp(-((k-K[i])**2)/(2*SK[i]*SK[i])-((r-R[i])**2)/(2*SR[i]*SR[i]));}
      v=Math.min(0.88,v);v=Math.round(v*28)/28;
      const c=jet(v);const o=(py*w+px)*4;
      img.data[o]=c[0]*255;img.data[o+1]=c[1]*255;img.data[o+2]=c[2]*235+10;img.data[o+3]=255;
    }
  }
  ctx.putImageData(img,0,0);
}
drawWT('cm',mK,mR,mAmp,mSK,mSR);
drawWT('cn',nK,nR,nAmp,nSK,nSR);
drawWT('co',oK,oR,oAmp,oSK,oSR);
drawWT('cp',pK,pR,pAmp,pSK,pSR);
function wtAxes(name,x0,w,title,labels){
  const g=panelGroup(name);
  const b={x:x0,y:764,w:w,h:213};
  const sx=lin(0,15,x0,x0+w), sy=lin(0,4,977,764);
  frame(g,b,'#333');
  xAxis(g,b,sx,kTicks,kTicks,996,{bold:true,fs:12,minor:[1,3,5,7,9,11,13,15]});
  yAxis(g,b,sy,rTicks,rTicks,{bold:true,fs:12});
  tx(g,x0+w/2,1019,'K (Å^{-1})',{fs:14,bold:true,anchor:'middle',name:'x-axis-title'});
  tx(g,x0-18,870,'R + ΔR (Å)',{fs:14,bold:true,anchor:'middle',rot:-90,name:'y-axis-title'});
  tx(g,x0+8,785,title,{fs:13,bold:true,fill:'#e8eeff',name:'map-title'});
  labels.forEach(l=>tx(g,sx(l[0]),sy(l[1])+5,l[2],{fs:13,bold:true,fill:'#111',anchor:'middle',name:'map-peak-label'}));
}
wtAxes('panel-m-wavelet',64,214,'CuNCN-Cu',[[8,2.55,'Cu−Cu'],[6.5,1.45,'Cu−N']]);
wtAxes('panel-n-wavelet',324,215,'Cu_{0.8}Zn_{0.2}NCN−Cu',[[7.5,2.55,'Cu−Cu'],[5.8,1.4,'Cu−N']]);
wtAxes('panel-o-wavelet',590,214,'ZnNCN−Zn',[[5,2.95,'Zn−Zn'],[11.5,2.3,'Zn−C'],[5.5,1.45,'Zn−N']]);
wtAxes('panel-p-wavelet',850,216,'Cu_{0.8}Zn_{0.2}NCN−Zn',[[12,2.2,'Zn−C'],[5.5,1.45,'Zn−N']]);
letter(12,772,'m');
letter(284,772,'n');
letter(554,772,'o');
letter(818,772,'p');
</script>
</body></html>
